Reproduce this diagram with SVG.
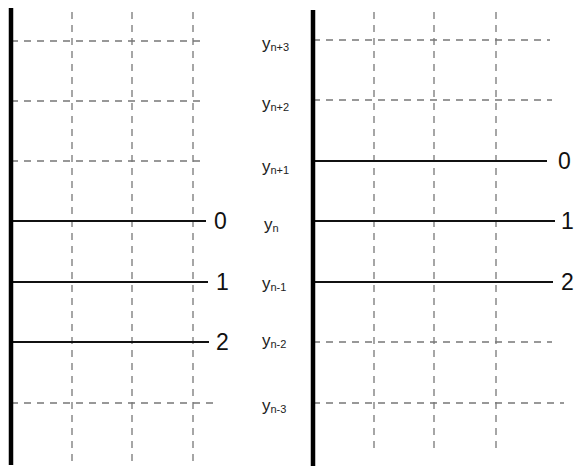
<svg xmlns="http://www.w3.org/2000/svg" width="576" height="466" viewBox="0 0 576 466">
<style>
.axis{stroke:#000;stroke-width:4.5;fill:none}
.solid{stroke:#111;stroke-width:2;fill:none}
.grid{stroke:#777;stroke-width:1.3;stroke-dasharray:7 6;fill:none}
.num{font-family:"Liberation Sans",Arial,sans-serif;font-size:23px;fill:#111}
.lab{font-family:"Liberation Sans",Arial,sans-serif;font-size:17px;fill:#222}
.sub{font-size:11px}
</style>
<rect width="576" height="466" fill="#fff"/>
<g id="connectors">
  <!-- left grid -->
  <line class="grid" x1="72" y1="12" x2="72" y2="461"/>
  <line class="grid" x1="132" y1="12" x2="132" y2="461"/>
  <line class="grid" x1="193" y1="12" x2="193" y2="461"/>
  <line class="grid" x1="11" y1="41" x2="203" y2="41"/>
  <line class="grid" x1="11" y1="101" x2="203" y2="101"/>
  <line class="grid" x1="11" y1="161" x2="203" y2="161"/>
  <line class="grid" x1="11" y1="403" x2="217" y2="403"/>
  <line class="solid" x1="11" y1="221" x2="206" y2="221"/>
  <line class="solid" x1="11" y1="282" x2="208" y2="282"/>
  <line class="solid" x1="11" y1="342" x2="209" y2="342"/>
  <line class="axis" x1="11" y1="8" x2="11" y2="465"/>
  <!-- right grid -->
  <line class="grid" x1="374" y1="12" x2="374" y2="451"/>
  <line class="grid" x1="434" y1="12" x2="434" y2="451"/>
  <line class="grid" x1="496" y1="12" x2="496" y2="453"/>
  <line class="grid" x1="313" y1="40" x2="550" y2="40"/>
  <line class="grid" x1="313" y1="100" x2="552" y2="100"/>
  <line class="grid" x1="313" y1="342" x2="552" y2="342"/>
  <line class="grid" x1="313" y1="403" x2="564" y2="403"/>
  <line class="solid" x1="313" y1="161" x2="547" y2="161"/>
  <line class="solid" x1="313" y1="221" x2="555" y2="221"/>
  <line class="solid" x1="313" y1="282" x2="553" y2="282"/>
  <line class="axis" x1="313" y1="10" x2="313" y2="466"/>
</g>
<g id="labels-left">
  <text class="num" x="214" y="229">0</text>
  <text class="num" x="216" y="290">1</text>
  <text class="num" x="216" y="350">2</text>
</g>
<g id="labels-right">
  <text class="num" x="558" y="169">0</text>
  <text class="num" x="561" y="229">1</text>
  <text class="num" x="561" y="290">2</text>
</g>
<g id="labels-y">
  <text class="lab" x="262" y="49">y<tspan class="sub" dy="2">n+3</tspan></text>
  <text class="lab" x="262" y="109">y<tspan class="sub" dy="2">n+2</tspan></text>
  <text class="lab" x="262" y="172">y<tspan class="sub" dy="2">n+1</tspan></text>
  <text class="lab" x="264" y="230">y<tspan class="sub" dy="2">n</tspan></text>
  <text class="lab" x="262" y="289">y<tspan class="sub" dy="2">n-1</tspan></text>
  <text class="lab" x="262" y="346">y<tspan class="sub" dy="2">n-2</tspan></text>
  <text class="lab" x="262" y="411">y<tspan class="sub" dy="2">n-3</tspan></text>
</g>
</svg>
